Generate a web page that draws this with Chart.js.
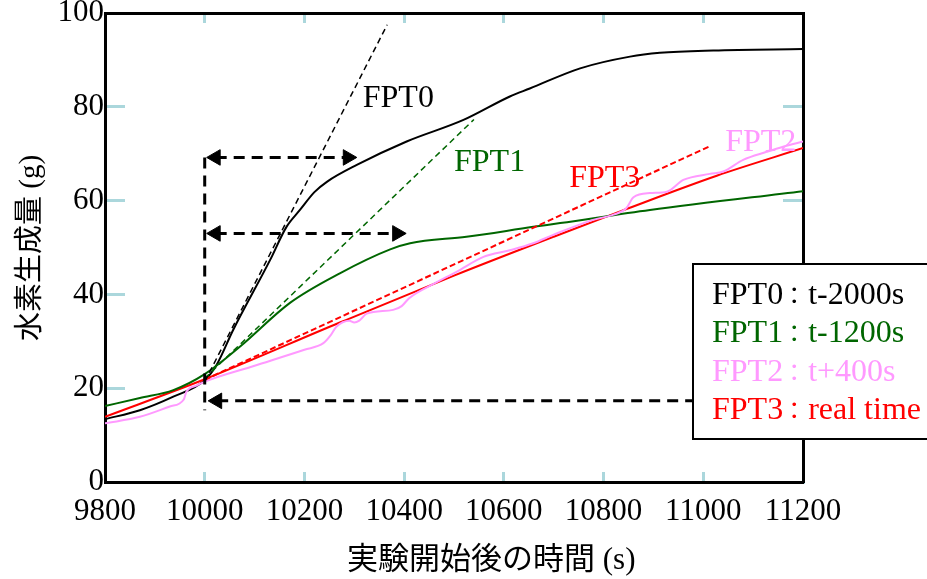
<!DOCTYPE html>
<html>
<head>
<meta charset="utf-8">
<script src="https://cdn.jsdelivr.net/npm/chart.js@4.4.1/dist/chart.umd.min.js"></script>
<style>
  html, body { margin: 0; padding: 0; background: #fff; }
  #wrap { width: 927px; height: 579px; }
</style>
</head>
<body>
<div id="wrap"><canvas id="h2Chart"></canvas></div>
<script>
const xTicks = [9800, 10000, 10200, 10400, 10600, 10800, 11000, 11200];
const yTicks = [0, 20, 40, 60, 80, 100];

// measured curves (time s, hydrogen g)
const fpt0Time = [9800, 9870, 9937, 10000, 10024, 10057, 10131, 10164, 10191, 10220, 10245, 10305, 10405, 10519, 10612, 10652, 10753, 10853, 10913, 11020, 11200];
const fpt0H2 = [13.4, 15.3, 18.2, 21.7, 25.0, 32.4, 47.3, 54.4, 58.0, 61.8, 64.0, 67.6, 72.6, 77.2, 82.2, 83.9, 88.2, 90.7, 91.5, 92.0, 92.3];

const fpt1Time = [9800, 9870, 9937, 10000, 10071, 10171, 10271, 10372, 10412, 10525, 10659, 10713, 10893, 11200];
const fpt1H2 = [16.2, 17.9, 19.6, 23.0, 28.9, 38.2, 44.5, 49.6, 50.9, 52.3, 54.4, 55.2, 58.0, 62.0];

const fpt2Time = [9800, 9870, 9930, 9958, 9963, 9985, 10000, 10100, 10200, 10238, 10252, 10264, 10290, 10300, 10310, 10325, 10378, 10395, 10410, 10460, 10505, 10559, 10612, 10659, 10699, 10779, 10820, 10845, 10860, 10893, 10927, 10960, 11013, 11040, 11080, 11127, 11160, 11200];
const fpt2H2 = [12.5, 13.9, 16.1, 17.6, 19.2, 20.6, 21.4, 24.8, 28.2, 29.6, 31.2, 33.1, 34.4, 34.0, 34.4, 35.9, 36.7, 37.5, 39.2, 42.3, 44.8, 48.0, 49.4, 50.9, 52.7, 55.9, 57.0, 58.3, 60.7, 61.6, 61.9, 64.4, 65.7, 66.2, 68.7, 70.4, 71.5, 72.6];

const fpt3Time = [9800, 10000, 10271, 10500, 10700, 10836, 11027, 11200];
const fpt3H2 = [13.9, 21.9, 34.0, 44.0, 52.3, 57.8, 65.3, 71.2];

// tangent (dashed) lines
const tan0Time = [10000, 10366];
const tan0H2 = [21.4, 97.5];
const tan1Time = [10000, 10540];
const tan1H2 = [22.1, 77.3];
const tan3Time = [10000, 11013];
const tan3H2 = [21.8, 71.6];

// arrows / guide
const guideTime = [10000, 10000];
const guideH2 = [69.2, 15.3];
const arrow1Time = [10022, 10287];
const arrow1H2 = [69.2, 69.2];
const arrow2Time = [10022, 10386];
const arrow2H2 = [53.0, 53.0];
const arrow3Time = [10025, 11100];
const arrow3H2 = [17.3, 17.3];

const legendNames = ['FPT0', 'FPT1', 'FPT2', 'FPT3'];
const legendTimes = ['t-2000s', 't-1200s', 't+400s', 'real time'];
const labelTime = [10317, 10500, 11044, 10731];
const labelH2 = [80.0, 66.4, 70.6, 62.8];

const colors = ['#000000', '#006600', '#ff99ff', '#ff0000'];
const tickBlue = '#abd7dc';
const serif = '"Liberation Serif", "Noto Sans CJK JP", serif';

const pts = (xs, ys) => xs.map((x, i) => ({ x: x, y: ys[i] }));

function curve(xs, ys, color) {
  return {
    data: pts(xs, ys), borderColor: color, borderWidth: 2,
    pointRadius: 0, cubicInterpolationMode: 'monotone', fill: false
  };
}
function dashed(xs, ys, color, w, dash) {
  return {
    data: pts(xs, ys), borderColor: color, borderWidth: w, borderDash: dash,
    pointRadius: 0, tension: 0, fill: false
  };
}
function arrow(xs, ys, heads) {
  return {
    data: pts(xs, ys), borderColor: '#000', borderWidth: 3, borderDash: [11, 7],
    pointStyle: 'triangle', pointRadius: heads.map(h => h ? 9 : 0),
    pointRotation: heads.map(h => h), pointBackgroundColor: '#000',
    pointBorderColor: '#000', pointBorderWidth: 1, tension: 0, fill: false
  };
}

const annotations = {
  id: 'annotations',
  afterDatasetsDraw(chart) {
    const ctx = chart.ctx, xs = chart.scales.x, ys = chart.scales.y;
    ctx.save();
    ctx.font = '32px ' + serif;
    ctx.textAlign = 'left';
    ctx.textBaseline = 'alphabetic';
    legendNames.forEach((t, i) => {
      ctx.fillStyle = colors[i];
      ctx.fillText(t, xs.getPixelForValue(labelTime[i]), ys.getPixelForValue(labelH2[i]));
    });
    ctx.restore();
  },
  afterDraw(chart) {
    const ctx = chart.ctx;
    ctx.save();
    // legend box
    ctx.fillStyle = '#fff';
    ctx.fillRect(693, 264, 250, 175);
    ctx.strokeStyle = '#000';
    ctx.lineWidth = 2;
    ctx.strokeRect(693, 264, 250, 175);
    ctx.textBaseline = 'alphabetic';
    legendNames.forEach((t, i) => {
      const y = 304 + i * 38.4;
      ctx.fillStyle = colors[i];
      ctx.font = '32px ' + serif;
      const w = ctx.measureText(t).width;
      ctx.fillText(t, 712, y);
      ctx.font = '24px ' + serif;
      ctx.fillText('：', 712 + w - 1, y);
      ctx.font = '32px ' + serif;
      ctx.fillText(legendTimes[i], 712 + w + 25, y);
    });
    // axis titles
    ctx.fillStyle = '#000';
    ctx.font = '31px ' + serif;
    ctx.textBaseline = 'middle';
    ctx.textAlign = 'left';
    ctx.fillText('実験開始後の時間 (s)', 347, 561);
    ctx.translate(31, 248);
    ctx.rotate(-Math.PI / 2);
    ctx.textAlign = 'center';
    ctx.font = '29px ' + serif;
    ctx.fillText('水素生成量 (g)', 0, 0);
    ctx.restore();
  }
};

function frameAxis(pos, len) {
  const horiz = pos === 'top' || pos === 'bottom';
  return {
    type: 'linear', position: pos,
    min: horiz ? 9800 : 0, max: horiz ? 11200 : 100,
    ticks: { display: false, stepSize: horiz ? 200 : 20 },
    grid: { drawOnChartArea: false, drawTicks: true, tickLength: -len, tickColor: tickBlue, tickWidth: 3 },
    border: { display: true, color: '#000', width: 3 },
    afterFit(s) {
      if (horiz) s.height = 0; else s.width = 0;
      s.paddingLeft = 0; s.paddingRight = 0; s.paddingTop = 0; s.paddingBottom = 0;
    }
  };
}

const ctx = document.getElementById('h2Chart').getContext('2d');
const h2Chart = new Chart(ctx, {
  type: 'line',
  data: {
    datasets: [
      arrow(guideTime, guideH2, [0, 0]),
      arrow(arrow1Time, arrow1H2, [-90, 90]),
      arrow(arrow2Time, arrow2H2, [-90, 90]),
      arrow(arrow3Time, arrow3H2, [-90, 0]),
      dashed(tan0Time, tan0H2, colors[0], 1.5, [6, 4]),
      dashed(tan1Time, tan1H2, colors[1], 1.5, [6, 4]),
      dashed(tan3Time, tan3H2, colors[3], 2, [6, 3]),
      curve(fpt2Time, fpt2H2, colors[2]),
      curve(fpt1Time, fpt1H2, colors[1]),
      curve(fpt3Time, fpt3H2, colors[3]),
      curve(fpt0Time, fpt0H2, colors[0])
    ]
  },
  options: {
    responsive: true,
    maintainAspectRatio: false,
    animation: false,
    devicePixelRatio: 1,
    layout: { padding: { left: 0, top: 13, right: 124, bottom: 0 } },
    plugins: { legend: { display: false }, tooltip: { enabled: false } },
    scales: {
      x: {
        type: 'linear', position: 'bottom', min: 9800, max: 11200,
        afterBuildTicks(s) { s.ticks = xTicks.map(v => ({ value: v })); },
        afterFit(s) { s.height = 97; s.paddingLeft = 0; s.paddingRight = 0; },
        ticks: {
          callback: v => String(v), autoSkip: false, maxRotation: 0,
          font: { family: serif, size: 31 }, color: '#000', padding: 21
        },
        grid: { drawOnChartArea: false, drawTicks: true, tickLength: -10, tickColor: tickBlue, tickWidth: 3 },
        border: { display: true, color: '#000', width: 3 }
      },
      y: {
        type: 'linear', position: 'left', min: 0, max: 100,
        afterBuildTicks(s) { s.ticks = yTicks.map(v => ({ value: v })); },
        afterFit(s) { s.width = 105; s.paddingTop = 0; s.paddingBottom = 0; },
        ticks: {
          callback: v => String(v),
          font: { family: serif, size: 31 }, color: '#000', padding: 21
        },
        grid: { drawOnChartArea: false, drawTicks: true, tickLength: -20, tickColor: tickBlue, tickWidth: 3 },
        border: { display: true, color: '#000', width: 3 }
      },
      xTop: frameAxis('top', 10),
      yRight: frameAxis('right', 20)
    }
  },
  plugins: [annotations]
});
</script>
</body>
</html>
